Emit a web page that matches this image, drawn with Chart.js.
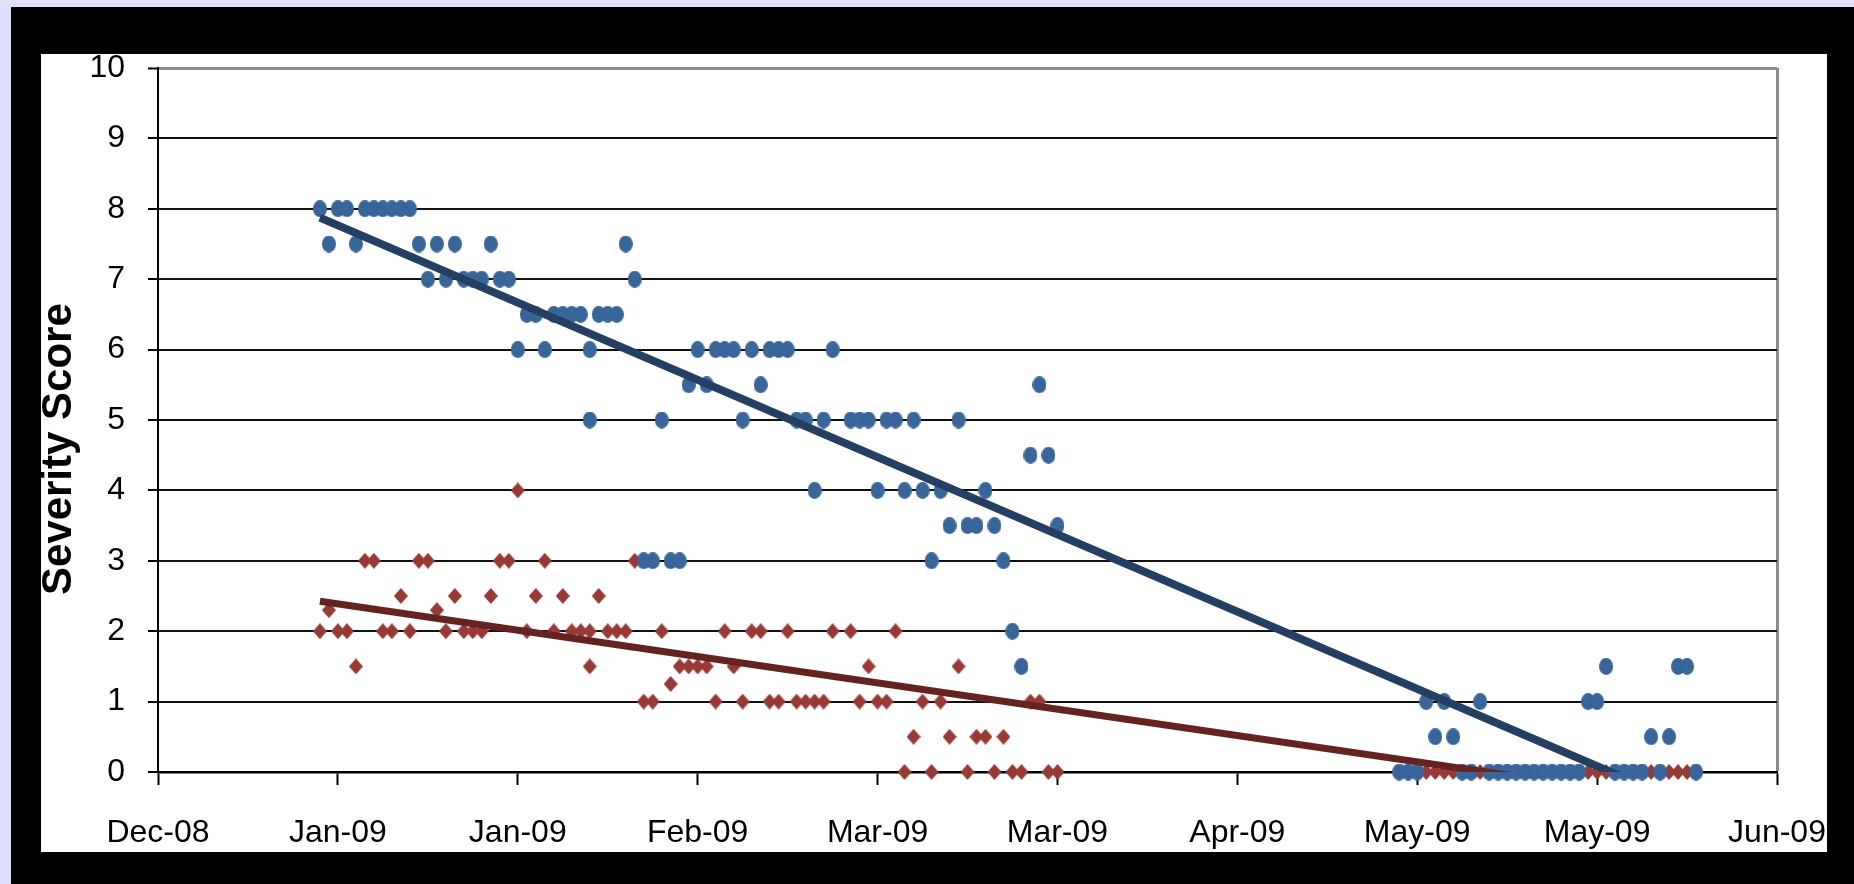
<!DOCTYPE html>
<html>
<head>
<meta charset="utf-8">
<script src="https://cdn.jsdelivr.net/npm/chart.js@4.4.0/dist/chart.umd.min.js"></script>
<style>
  html, body { margin: 0; padding: 0; }
  body { width: 1854px; height: 884px; background: #e0e0fc; position: relative; overflow: hidden; }
  #frame { position: absolute; left: 11px; top: 7px; right: 0; bottom: 0; background: #000; }
  #panel { position: absolute; left: 41px; top: 54px; width: 1786px; height: 798px; background: #fff; }
</style>
</head>
<body>
<div id="frame"></div>
<div id="panel"><canvas id="severityChart" width="1786" height="798"></canvas></div>
<script>
// x = days after 12 Dec 2008, the axis starts there and steps by 20 days
const xTickLabels = ['Dec-08', 'Jan-09', 'Jan-09', 'Feb-09', 'Mar-09', 'Mar-09', 'Apr-09', 'May-09', 'May-09', 'Jun-09'];

const studyDays = [
    18, 19, 20, 21, 22, 23, 24, 25, 26, 27, 28,
    29, 30, 31, 32, 33, 34, 35, 36, 37, 38, 39,
    40, 41, 42, 43, 44, 45, 46, 47,
    48, 48,
    49, 50, 51, 52, 53,
    54, 55, 56, 57, 58,
    59, 60, 61, 62, 63, 64, 65, 66, 67,
    68, 69, 70, 71, 72, 73, 74, 75,
    77, 78, 79, 80, 81, 82, 83, 84, 85, 86, 87, 88, 89, 90, 91, 92, 93, 94, 95, 96, 97, 98, 99, 100,
    138, 139, 140, 141, 142, 143, 144, 145, 146, 147,
    148, 149, 150, 151, 152, 153, 154, 155, 156, 157, 158,
    159, 160, 161, 162, 163, 164, 165, 166, 167, 168, 169, 170, 171
]

const scoreBlue = [
    8, 7.5, 8, 8, 7.5, 8, 8, 8, 8, 8, 8,
    7.5, 7, 7.5, 7, 7.5, 7, 7, 7, 7.5, 7, 7,
    6, 6.5, 6.5, 6, 6.5, 6.5, 6.5, 6.5,
    6, 5,
    6.5, 6.5, 6.5, 7.5, 7,
    3, 3, 5, 3, 3,
    5.5, 6, 5.5, 6, 6, 6, 5, 6, 5.5,
    6, 6, 6, 5, 5, 4, 5, 6,
    5, 5, 5, 4, 5, 5, 4, 5, 4, 3, 4, 3.5, 5, 3.5, 3.5, 4, 3.5, 3, 2, 1.5, 4.5, 5.5, 4.5, 3.5,
    0, 0, 0, 1, 0.5, 1, 0.5, 0, 0, 1,
    0, 0, 0, 0, 0, 0, 0, 0, 0, 0, 0,
    1, 1, 1.5, 0, 0, 0, 0, 0.5, 0, 0.5, 1.5, 1.5, 0
]

const scoreRed = [
    2, 2.3, 2, 2, 1.5, 3, 3, 2, 2, 2.5, 2,
    3, 3, 2.3, 2, 2.5, 2, 2, 2, 2.5, 3, 3,
    4, 2, 2.5, 3, 2, 2.5, 2, 2,
    2, 1.5,
    2.5, 2, 2, 2, 3,
    1, 1, 2, 1.25, 1.5,
    1.5, 1.5, 1.5, 1, 2, 1.5, 1, 2, 2,
    1, 1, 2, 1, 1, 1, 1, 2,
    2, 1, 1.5, 1, 1, 2, 0, 0.5, 1, 0, 1, 0.5, 1.5, 0, 0.5, 0.5, 0, 0.5, 0, 0, 1, 1, 0, 0,
    0, 0, 0, 0, 0, 0, 0, 0, 0, 0,
    0, 0, 0, 0, 0, 0, 0, 0, 0, 0, 0,
    0, 0, 0, 0, 0, 0, 0, 0, 0, 0, 0, 0, 0
]

const LABEL_FONT = "'Liberation Sans', Arial, sans-serif"

function makeDot(w, h, color) {
    const c = document.createElement('canvas')
    c.width = w
    c.height = h
    const g = c.getContext('2d')
    g.fillStyle = color
    g.beginPath()
    g.ellipse(w / 2, h / 2, w / 2, h / 2, 0, 0, Math.PI * 2)
    g.fill()
    return c
}

function makeDiamond(w, h, color) {
    const c = document.createElement('canvas')
    c.width = w
    c.height = h
    const g = c.getContext('2d')
    g.fillStyle = color
    g.beginPath()
    g.moveTo(w / 2, 0)
    g.lineTo(w, h / 2)
    g.lineTo(w / 2, h)
    g.lineTo(0, h / 2)
    g.closePath()
    g.fill()
    return c
}

// least squares line over the whole series, like the excel trendline
function trendLine(xs, ys) {
    let n = xs.length, sx = 0, sy = 0, sxy = 0, sxx = 0
    for (let i = 0; i < n; i++) {
        sx += xs[i]; sy += ys[i]; sxy += xs[i] * ys[i]; sxx += xs[i] * xs[i]
    }
    const slope = (n * sxy - sx * sy) / (n * sxx - sx * sx)
    const intercept = (sy - slope * sx) / n
    const x0 = Math.min(...xs), x1 = Math.max(...xs)
    return [{ x: x0, y: intercept + slope * x0 }, { x: x1, y: intercept + slope * x1 }]
}

const bluePoints = studyDays.map((d, i) => ({ x: d, y: scoreBlue[i] }))
const redPoints = studyDays.map((d, i) => ({ x: d, y: scoreRed[i] }))

const context = document.getElementById('severityChart')
const data = {
    datasets: [
        {
            type: 'line',
            data: trendLine(studyDays, scoreBlue),
            borderColor: '#243f62',
            borderWidth: 8,
            borderCapStyle: 'butt',
            pointRadius: 0,
            clip: 0,
            order: 0
        },
        {
            type: 'line',
            data: trendLine(studyDays, scoreRed),
            borderColor: '#642321',
            borderWidth: 7,
            borderCapStyle: 'butt',
            pointRadius: 0,
            clip: 0,
            order: 0
        },
        {
            data: bluePoints,
            pointStyle: makeDot(14, 17, '#38659a'),
            clip: false,
            order: 1
        },
        {
            data: redPoints,
            pointStyle: makeDiamond(14, 16, '#983936'),
            clip: false,
            order: 2
        }
    ]
}

const config = {
    type: 'scatter',
    data: data,
    options: {
        responsive: false,
        animation: false,
        devicePixelRatio: 1,
        events: [],
        layout: { padding: { top: 14, right: 50, left: 0, bottom: 0 } },
        plugins: {
            legend: { display: false },
            tooltip: { enabled: false }
        },
        scales: {
            x: {
                type: 'linear',
                min: 0,
                max: 180,
                afterFit: scale => { scale.height = 80; scale.paddingLeft = 0; scale.paddingRight = 0 },
                ticks: {
                    stepSize: 20,
                    autoSkip: false,
                    maxRotation: 0,
                    color: '#000',
                    padding: 29,
                    font: { family: LABEL_FONT, size: 32 },
                    callback: (value, index) => xTickLabels[index]
                },
                grid: {
                    color: c => c.tick && c.tick.value === 180 ? '#8c8c8c' : 'rgba(0,0,0,0)',
                    lineWidth: c => c.tick && c.tick.value === 180 ? 3 : 1,
                    tickColor: '#000',
                    tickLength: 13,
                    tickWidth: 2
                },
                border: { color: '#000', width: 2.5 }
            },
            y: {
                min: 0,
                max: 10,
                afterFit: scale => { scale.width = 117; scale.paddingTop = 0; scale.paddingBottom = 0 },
                ticks: {
                    stepSize: 1,
                    color: '#000',
                    padding: 23,
                    font: { family: LABEL_FONT, size: 32 }
                },
                grid: {
                    color: c => c.tick && c.tick.value === 10 ? '#8c8c8c' : '#111',
                    lineWidth: c => c.tick && c.tick.value === 10 ? 3 : 2,
                    tickColor: '#000',
                    tickLength: 10,
                    tickWidth: 2
                },
                border: { color: '#000', width: 2 },
                title: {
                    display: true,
                    text: 'Severity Score\u00a0\u00a0\u00a0\u00a0\u00a0',
                    color: '#000',
                    padding: { top: 0, bottom: 0 },
                    font: { family: "'Liberation Sans', Arial, sans-serif", size: 42, weight: 'bold', lineHeight: 0.86 }
                }
            }
        }
    }
}
new Chart(context, config)
</script>
</body>
</html>
